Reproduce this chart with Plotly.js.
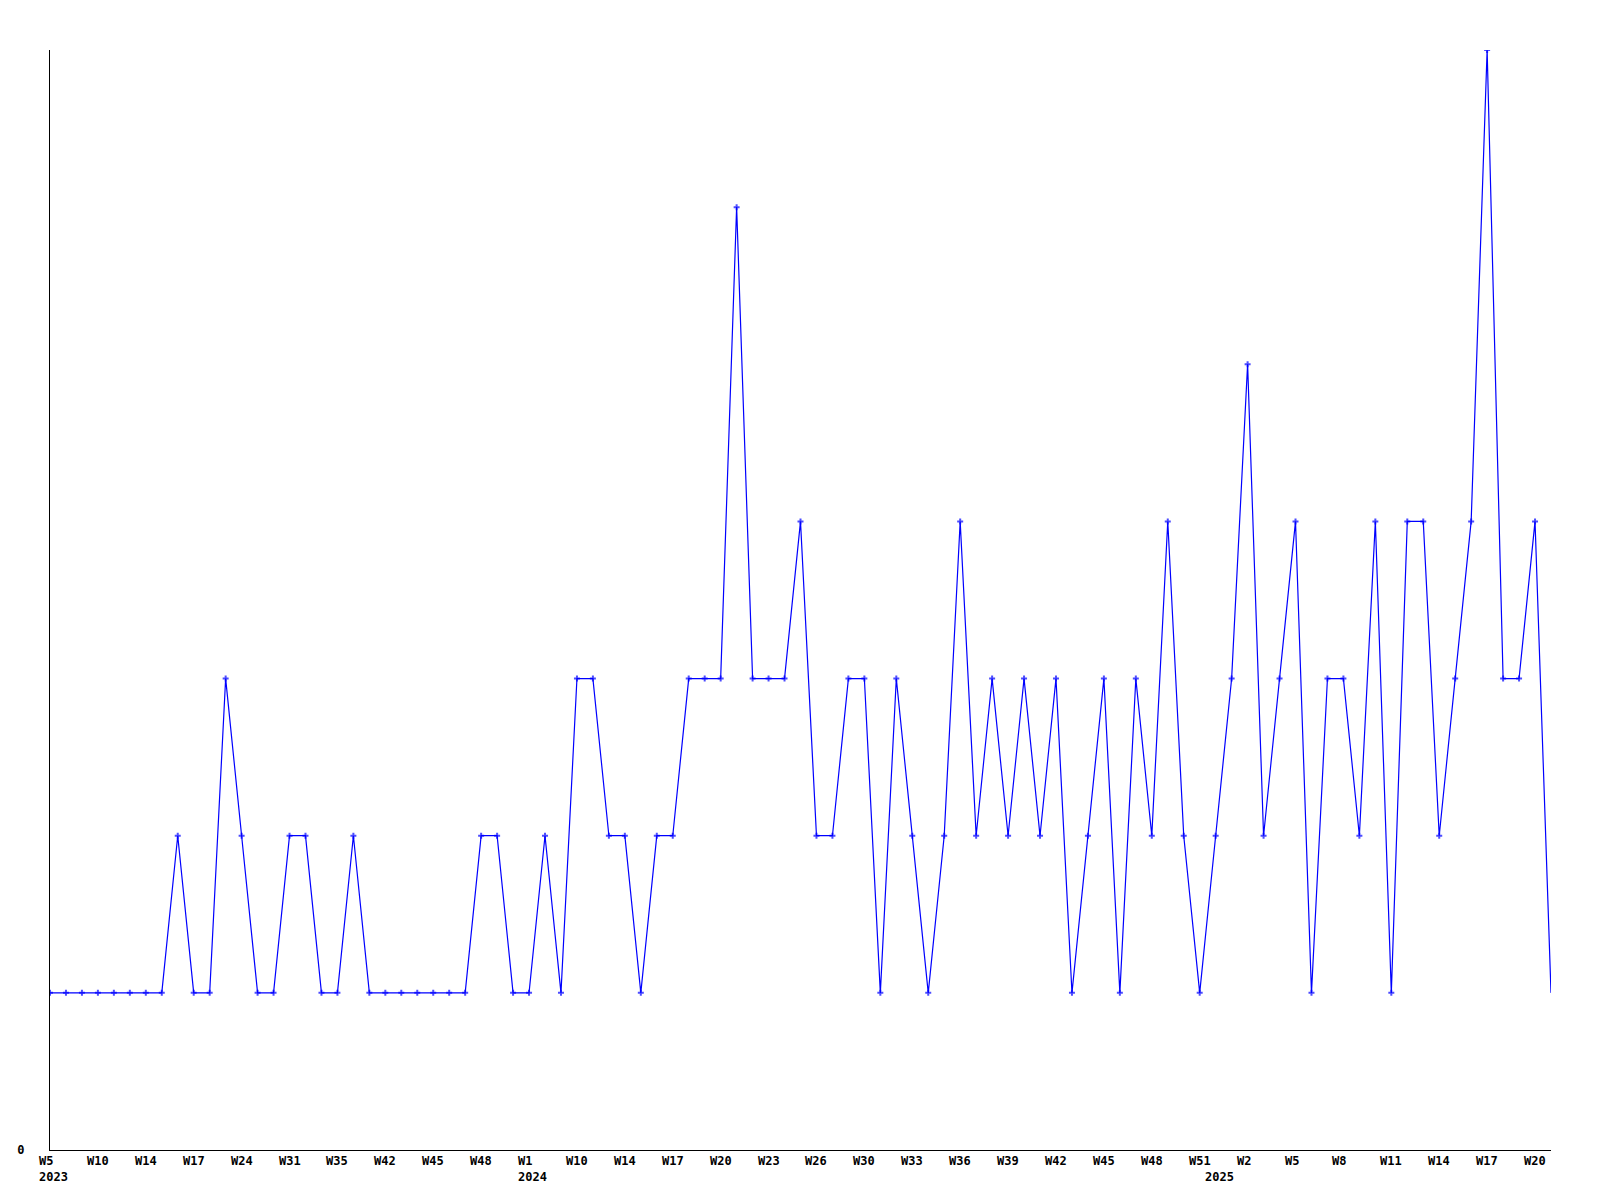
<!DOCTYPE html>
<html>
<head>
<meta charset="utf-8">
<script src="https://cdn.plot.ly/plotly-3.0.1.min.js"></script>
<style>html,body{margin:0;padding:0;background:#fff;}#chart{width:1600px;height:1200px;}</style>
</head>
<body>
<div id="chart"></div>
<script>
// Week categories (year, week) for each data point
const years = [
  2023,2023,2023,2023,2023,2023,2023,2023,2023,2023,
  2023,2023,2023,2023,2023,2023,2023,2023,2023,2023,
  2023,2023,2023,2023,2023,2023,2023,2023,2023,2023,
  2024,2024,2024,2024,2024,2024,2024,2024,2024,2024,
  2024,2024,2024,2024,2024,2024,2024,2024,2024,2024,
  2024,2024,2024,2024,2024,2024,2024,2024,2024,2024,
  2024,2024,2024,2024,2024,2024,2024,2024,2024,2024,
  2024,2024,2024,2024,
  2025,2025,2025,2025,2025,2025,2025,2025,2025,2025,
  2025,2025,2025,2025,2025,2025,2025,2025,2025,2025,2025
];
const weekNums = [
  5,6,8,10,11,12,14,15,16,17,
  19,21,24,26,28,31,32,33,35,37,
  40,42,43,44,45,46,47,48,50,51,
  1,4,7,10,12,13,14,15,16,17,
  18,19,20,21,22,23,24,25,26,27,
  29,30,31,32,33,34,35,36,37,38,
  39,40,41,42,43,44,45,46,47,48,
  49,50,51,52,
  1,2,3,4,5,6,7,8,9,10,
  11,12,13,14,15,16,17,18,19,20,21
];
const counts = [
  1,1,1,1,1,1,1,1,2,1,
  1,3,2,1,1,2,2,1,1,2,
  1,1,1,1,1,1,1,2,2,1,
  1,2,1,3,3,2,2,1,2,2,
  3,3,3,6,3,3,3,4,2,2,
  3,3,1,3,2,1,2,4,2,3,
  2,3,2,3,1,2,3,1,3,2,
  4,2,1,2,
  3,5,2,3,4,1,3,3,2,4,
  1,4,4,2,3,4,7,3,3,4,1
];
// Labelled week ticks (every 3rd point) and year labels as drawn in the source
const tickEvery = 3;
const yearLabels = ['2023', '2024', '2025'];
const yearLabelCats = ['2023-W05', '2024-W01', '2024-W52'];

const cats = years.map((y, i) => y + '-W' + String(weekNums[i]).padStart(2, '0'));
const tickFont = {family: '"DejaVu Sans Mono", monospace', size: 12, color: '#000', weight: 'bold'};

const annotations = [];
for (let i = 0; i < cats.length; i += tickEvery) {
  annotations.push({
    x: cats[i], xref: 'x', y: 0, yref: 'paper',
    text: 'W' + weekNums[i], showarrow: false,
    xanchor: 'left', yanchor: 'top', xshift: -12, yshift: -3,
    borderpad: 0, font: tickFont
  });
}
yearLabels.forEach((t, k) => {
  annotations.push({
    x: yearLabelCats[k], xref: 'x', y: 0, yref: 'paper',
    text: t, showarrow: false,
    xanchor: 'left', yanchor: 'top', xshift: -12, yshift: -19,
    borderpad: 0, font: tickFont
  });
});

const sizes = counts.map((v, i) => i === counts.length - 1 ? 0 : 5);

Plotly.newPlot('chart', [{
  x: cats,
  y: counts,
  type: 'scatter',
  mode: 'lines+markers',
  line: {color: '#0000ff', width: 1.2},
  marker: {color: '#0000ff', symbol: 'cross', size: sizes, line: {width: 0}},
  hoverinfo: 'x+y'
}], {
  width: 1600, height: 1200,
  margin: {l: 50, r: 49, t: 50, b: 50},
  paper_bgcolor: '#fff', plot_bgcolor: '#fff',
  showlegend: false,
  font: tickFont,
  annotations: annotations,
  xaxis: {
    type: 'category',
    categoryorder: 'array', categoryarray: cats,
    range: [0, cats.length - 1],
    showticklabels: false,
    showgrid: false, zeroline: false,
    showline: true, linecolor: '#000', linewidth: 1,
    ticks: ''
  },
  yaxis: {
    range: [0, 7],
    tickmode: 'array', tickvals: [0], ticktext: ['0'],
    showgrid: false, zeroline: false,
    showline: true, linecolor: '#000', linewidth: 1,
    ticks: '',
    ticklabelstandoff: 22,
    tickfont: tickFont
  }
}, {displayModeBar: false, staticPlot: true});
</script>
</body>
</html>
